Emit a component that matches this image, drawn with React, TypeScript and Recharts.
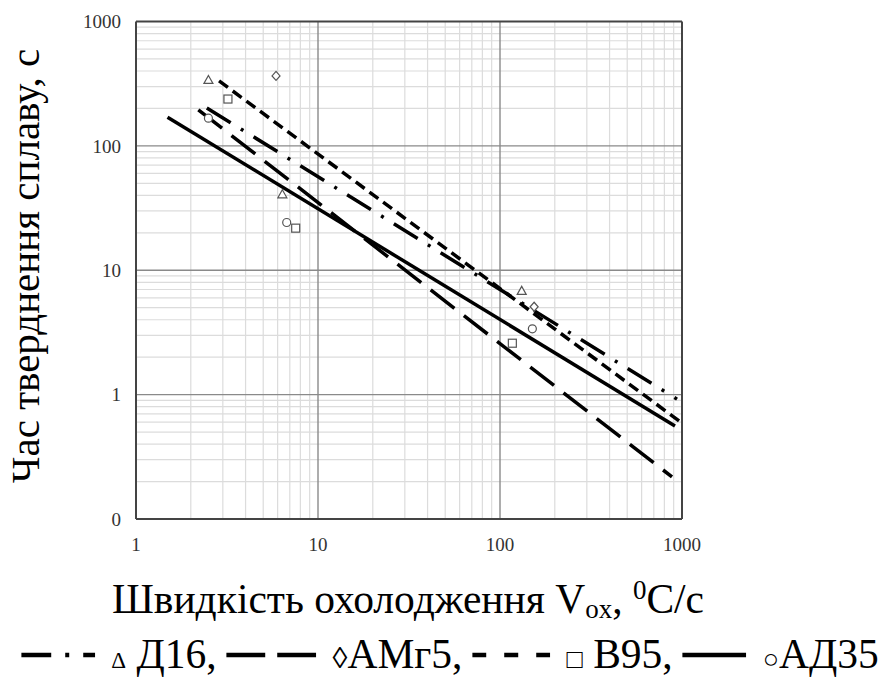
import React from "react";
import { ComposedChart, Line, Scatter, XAxis, YAxis, ReferenceLine } from "recharts";

// fitted lines (end points, log-log)
const d16LineX = [2.45, 939];
const d16LineY = [202, 0.92];
const amg5LineX = [2.2, 881];
const amg5LineY = [195, 0.218];
const b95LineX = [2.86, 963];
const b95LineY = [333, 0.615];
const ad35LineX = [1.49, 915];
const ad35LineY = [170, 0.56];

// measured points
const d16X = [2.5, 6.37, 131.6];
const d16Y = [339, 40.8, 6.83];
const amg5X = [5.88, 154];
const amg5Y = [365, 5.09];
const b95X = [3.2, 7.54, 116.9];
const b95Y = [238, 21.8, 2.59];
const ad35X = [2.5, 6.73, 150.6];
const ad35Y = [167, 24.2, 3.38];

const xTicks = [1, 10, 100, 1000];
const yTicks = [0.1, 1, 10, 100, 1000];
const xMinor = [2, 3, 4, 5, 6, 7, 8, 9, 20, 30, 40, 50, 60, 70, 80, 90, 200, 300, 400, 500, 600, 700, 800, 900];
const yMinor = [0.2, 0.3, 0.4, 0.5, 0.6, 0.7, 0.8, 0.9, 2, 3, 4, 5, 6, 7, 8, 9, 20, 30, 40, 50, 60, 70, 80, 90, 200, 300, 400, 500, 600, 700, 800, 900];
const xMajor = [10, 100];
const yMajor = [1, 10, 100];

const zip = (xs: number[], ys: number[]) => xs.map((x, i) => ({ x, y: ys[i] }));

const FONT = "'Liberation Serif', 'DejaVu Serif', serif";
const MARK = "#555";

const Tri = (p: any) => (
  <path d={`M${p.cx},${p.cy - 4.5}L${p.cx + 4.5},${p.cy + 3.5}L${p.cx - 4.5},${p.cy + 3.5}Z`} fill="#fff" stroke={MARK} strokeWidth={1.2} />
);
const Dia = (p: any) => (
  <path d={`M${p.cx},${p.cy - 4.5}L${p.cx + 4},${p.cy}L${p.cx},${p.cy + 4.5}L${p.cx - 4},${p.cy}Z`} fill="#fff" stroke={MARK} strokeWidth={1.2} />
);
const Sq = (p: any) => <rect x={p.cx - 4} y={p.cy - 4} width={8} height={8} fill="#fff" stroke={MARK} strokeWidth={1.2} />;
const Circ = (p: any) => <circle cx={p.cx} cy={p.cy} r={4} fill="#fff" stroke={MARK} strokeWidth={1.2} />;

const tickStyle = { fontFamily: FONT, fontSize: 19, fill: "#333" };

const LegendLine = ({ w, dash }: { w: number; dash?: string }) => (
  <svg width={w} height={10} style={{ verticalAlign: "middle", margin: "0 16px 6px 10px" }}>
    <line x1={0} y1={5} x2={w} y2={5} stroke="#000" strokeWidth={4.5} strokeDasharray={dash} />
  </svg>
);

const textBase: React.CSSProperties = {
  position: "absolute",
  fontFamily: FONT,
  fontSize: 41.5,
  lineHeight: "40px",
  whiteSpace: "nowrap",
  color: "#000",
};

export default function App() {
  return (
    <div style={{ position: "fixed", left: 0, top: 0, width: 890, height: 678, background: "#fff", overflow: "hidden" }}>
      <ComposedChart width={890} height={678} margin={{ top: 21.5, right: 208, left: 76, bottom: 129 }}>
        <XAxis
          dataKey="x"
          type="number"
          scale="log"
          domain={[1, 1000]}
          ticks={xTicks}
          allowDataOverflow
          height={30}
          tickLine={false}
          tickSize={0}
          tickMargin={19}
          axisLine={{ stroke: "#444", strokeWidth: 2 }}
          tick={tickStyle}
        />
        <YAxis
          dataKey="y"
          type="number"
          scale="log"
          domain={[0.1, 1000]}
          ticks={yTicks}
          allowDataOverflow
          width={60}
          tickLine={false}
          tickSize={0}
          tickMargin={15}
          axisLine={{ stroke: "#444", strokeWidth: 2 }}
          tick={tickStyle}
          tickFormatter={(v: number) => (v === 0.1 ? "0" : String(v))}
        />
        {xMinor.map((v) => (
          <ReferenceLine key={"xm" + v} x={v} stroke="#dcdcdc" strokeWidth={1.2} />
        ))}
        {yMinor.map((v) => (
          <ReferenceLine key={"ym" + v} y={v} stroke="#dcdcdc" strokeWidth={1.2} />
        ))}
        {xMajor.map((v) => (
          <ReferenceLine key={"xM" + v} x={v} stroke="#8a8a8a" strokeWidth={1.4} />
        ))}
        {yMajor.map((v) => (
          <ReferenceLine key={"yM" + v} y={v} stroke="#8a8a8a" strokeWidth={1.4} />
        ))}
        <ReferenceLine x={1000} stroke="#444" strokeWidth={2} />
        <ReferenceLine y={1000} stroke="#444" strokeWidth={2} />

        <Scatter data={zip(d16X, d16Y)} shape={Tri} isAnimationActive={false} />
        <Scatter data={zip(amg5X, amg5Y)} shape={Dia} isAnimationActive={false} />
        <Scatter data={zip(b95X, b95Y)} shape={Sq} isAnimationActive={false} />
        <Scatter data={zip(ad35X, ad35Y)} shape={Circ} isAnimationActive={false} />

        <Line data={zip(d16LineX, d16LineY)} dataKey="y" stroke="#000" strokeWidth={3.5} strokeDasharray="28 12 3 12" dot={false} isAnimationActive={false} />
        <Line data={zip(amg5LineX, amg5LineY)} dataKey="y" stroke="#000" strokeWidth={3.5} strokeDasharray="30 12" dot={false} isAnimationActive={false} />
        <Line data={zip(b95LineX, b95LineY)} dataKey="y" stroke="#000" strokeWidth={3.5} strokeDasharray="11 6" dot={false} isAnimationActive={false} />
        <Line data={zip(ad35LineX, ad35LineY)} dataKey="y" stroke="#000" strokeWidth={3.5} dot={false} isAnimationActive={false} />
      </ComposedChart>

      <div style={{ ...textBase, fontSize: 41, left: 25, top: 266, transform: "translate(-50%, -50%) rotate(-90deg)" }}>
        Час тверднення сплаву, с
      </div>

      <div style={{ ...textBase, left: 408, top: 570, transform: "translateX(-50%)" }}>
        Швидкість охолодження V<span style={{ fontSize: 27, verticalAlign: "-5px" }}>ox</span>,{" "}
        <span style={{ fontSize: 27, verticalAlign: "14px" }}>0</span>C/c
      </div>

      <div style={{ ...textBase, lineHeight: "42px", left: 445, top: 633, transform: "translateX(-50%)" }}>
        <LegendLine w={74} dash="30 14 4 14" />
        <span style={{ fontSize: 23 }}>Δ</span> Д16,
        <LegendLine w={90} dash="39 12" />
        <span style={{ fontSize: 30 }}>◊</span>АМг5,
        <LegendLine w={78} dash="14 18" />
        <span style={{ fontSize: 27 }}>□</span> В95,
        <LegendLine w={64} />
        <span style={{ fontSize: 27 }}>○</span>АД35
      </div>
    </div>
  );
}
